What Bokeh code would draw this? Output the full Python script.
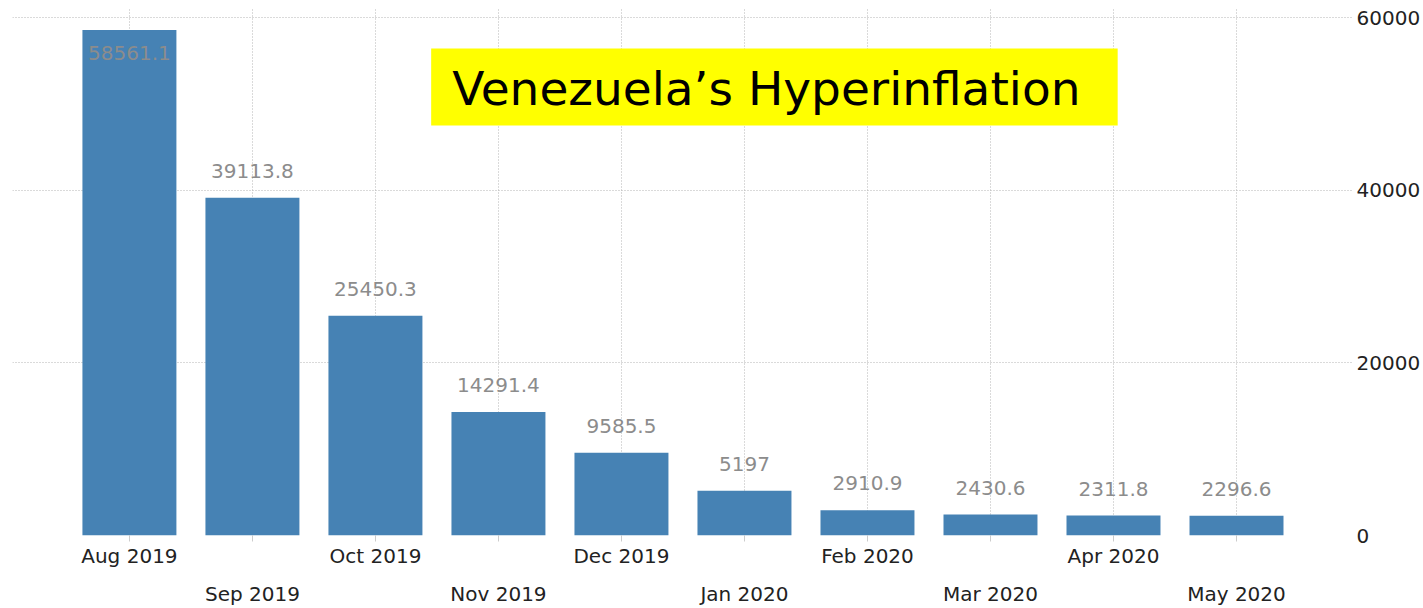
from bokeh.plotting import figure
from bokeh.models import (ColumnDataSource, FixedTicker, LinearAxis, Range1d,
                          BoxAnnotation, Label, BasicTickFormatter)
from bokeh.core.properties import value
from bokeh.embed import file_html
from bokeh.resources import INLINE

# ---- data ----
months = ["Aug 2019", "Sep 2019", "Oct 2019", "Nov 2019", "Dec 2019",
          "Jan 2020", "Feb 2020", "Mar 2020", "Apr 2020", "May 2020"]
inflation = [58561.1, 39113.8, 25450.3, 14291.4, 9585.5,
             5197, 2910.9, 2430.6, 2311.8, 2296.6]
value_labels = ["58561.1", "39113.8", "25450.3", "14291.4", "9585.5",
                "5197", "2910.9", "2430.6", "2311.8", "2296.6"]
y_ticks = [0, 20000, 40000, 60000]
title_text = "Venezuela\u2019s Hyperinflation"

FONT = "DejaVu Sans"
Y_MAX = 61044
PX = Y_MAX / 527.0  # data units per vertical pixel

xs = list(range(len(months)))
label_y = []
for v in inflation:
    if v + 30 * PX > Y_MAX:
        label_y.append(v - 23 * PX)
    else:
        label_y.append(v + 27 * PX)

src = ColumnDataSource(dict(x=xs, top=inflation, ly=label_y, lt=value_labels))

p = figure(width=1423, height=608, output_backend="svg", toolbar_location=None,
           x_range=Range1d(-0.9505, 9.943), y_range=Range1d(0, Y_MAX),
           y_axis_location="right", min_border_left=12, min_border_right=70,
           min_border_top=8, min_border_bottom=73)
p.outline_line_color = None
p.background_fill_color = "white"

p.vbar(x="x", top="top", bottom=0, width=0.764, source=src,
       fill_color="#4682b4", line_color=None)

p.text(x="x", y="ly", text="lt", source=src, text_align="center",
       text_baseline="alphabetic", text_font=value(FONT),
       text_font_size="20px", text_color="#8c8c8c")

# y axis (right)
ya = p.yaxis[0]
ya.ticker = FixedTicker(ticks=y_ticks)
ya.formatter = BasicTickFormatter(use_scientific=False)
ya.axis_line_color = None
ya.major_tick_line_color = None
ya.minor_tick_line_color = None
ya.major_tick_out = 0
ya.major_tick_in = 0
ya.major_label_standoff = 4
ya.major_label_text_font = FONT
ya.major_label_text_font_size = "20px"
ya.major_label_text_color = "#222222"

# x axis (upper row)
xa = p.xaxis[0]
xa.ticker = FixedTicker(ticks=xs)
xa.major_label_overrides = {i: (months[i] if i % 2 == 0 else "") for i in xs}
xa.axis_line_color = None
xa.major_tick_line_color = "#cccccc"
xa.major_tick_out = 6
xa.major_tick_in = 0
xa.minor_tick_line_color = None
xa.major_label_standoff = 2
xa.major_label_text_font = FONT
xa.major_label_text_font_size = "20px"
xa.major_label_text_color = "#222222"

# x axis (lower row)
odd = [i for i in xs if i % 2 == 1]
xa2 = LinearAxis(ticker=FixedTicker(ticks=odd),
                 major_label_overrides={i: months[i] for i in odd})
xa2.axis_line_color = None
xa2.major_tick_line_color = None
xa2.minor_tick_line_color = None
xa2.major_tick_out = 0
xa2.major_tick_in = 0
xa2.major_label_standoff = 11
xa2.major_label_text_font = FONT
xa2.major_label_text_font_size = "20px"
xa2.major_label_text_color = "#222222"
p.add_layout(xa2, "below")

# grids
p.xgrid.grid_line_color = "#b4b4b4"
p.xgrid.grid_line_dash = "1 2"
p.ygrid.grid_line_color = "#b4b4b4"
p.ygrid.grid_line_dash = "1 2"

# title box
p.add_layout(BoxAnnotation(left=2.453, right=8.034, bottom=(535 - 125) * PX,
                           top=(535 - 48) * PX, fill_color="#ffff00",
                           fill_alpha=1.0, line_color=None))
p.add_layout(Label(x=2.624, y=(535 - 88) * PX, text=title_text,
                   text_font=FONT, text_font_size="47px",
                   text_color="black", text_baseline="alphabetic"))

open("out.html", "w").write(file_html(p, INLINE))
